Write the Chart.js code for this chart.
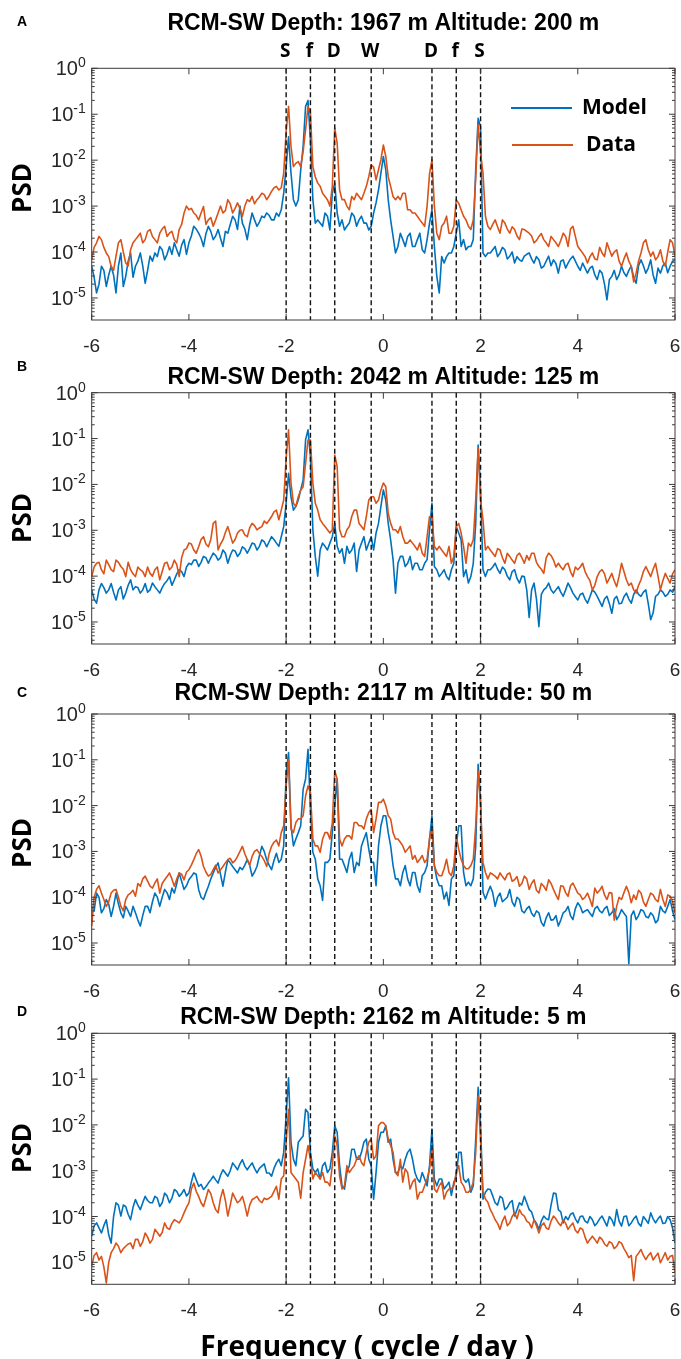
<!DOCTYPE html>
<html>
<head>
<meta charset="utf-8">
<script src="https://cdn.jsdelivr.net/npm/chart.js@4.4.1/dist/chart.umd.min.js"></script>
<style>
    html, body { margin: 0; padding: 0; background: #fff; }
    #wrap { position: relative; width: 681px; height: 1359px; overflow: hidden; }
    #wrap canvas { position: absolute; left: 0; top: 0; }
</style>
</head>
<body>
<div id="wrap">
    <canvas id="pA" width="681" height="1359"></canvas>
    <canvas id="pB" width="681" height="1359"></canvas>
    <canvas id="pC" width="681" height="1359"></canvas>
    <canvas id="pD" width="681" height="1359"></canvas>
</div>
<script>
// ============================
// Data (PSD stored as log10 values)
// one row = half a cycle/day
// ============================

const freq = [
    -6.00, -5.95, -5.90, -5.85, -5.80, -5.75, -5.70, -5.65, -5.60, -5.55,
    -5.50, -5.45, -5.40, -5.35, -5.30, -5.25, -5.20, -5.15, -5.10, -5.05,
    -5.00, -4.95, -4.90, -4.85, -4.80, -4.75, -4.70, -4.65, -4.60, -4.55,
    -4.50, -4.45, -4.40, -4.35, -4.30, -4.25, -4.20, -4.15, -4.10, -4.05,
    -4.00, -3.95, -3.90, -3.85, -3.80, -3.75, -3.70, -3.65, -3.60, -3.55,
    -3.50, -3.45, -3.40, -3.35, -3.30, -3.25, -3.20, -3.15, -3.10, -3.05,
    -3.00, -2.95, -2.90, -2.85, -2.80, -2.75, -2.70, -2.65, -2.60, -2.55,
    -2.50, -2.45, -2.40, -2.35, -2.30, -2.25, -2.20, -2.15, -2.10, -2.05,
    -2.00, -1.95, -1.90, -1.85, -1.80, -1.75, -1.70, -1.65, -1.60, -1.55,
    -1.50, -1.45, -1.40, -1.35, -1.30, -1.25, -1.20, -1.15, -1.10, -1.05,
    -1.00, -0.95, -0.90, -0.85, -0.80, -0.75, -0.70, -0.65, -0.60, -0.55,
    -0.50, -0.45, -0.40, -0.35, -0.30, -0.25, -0.20, -0.15, -0.10, -0.05,
    0.00, 0.05, 0.10, 0.15, 0.20, 0.25, 0.30, 0.35, 0.40, 0.45,
    0.50, 0.55, 0.60, 0.65, 0.70, 0.75, 0.80, 0.85, 0.90, 0.95,
    1.00, 1.05, 1.10, 1.15, 1.20, 1.25, 1.30, 1.35, 1.40, 1.45,
    1.50, 1.55, 1.60, 1.65, 1.70, 1.75, 1.80, 1.85, 1.90, 1.95,
    2.00, 2.05, 2.10, 2.15, 2.20, 2.25, 2.30, 2.35, 2.40, 2.45,
    2.50, 2.55, 2.60, 2.65, 2.70, 2.75, 2.80, 2.85, 2.90, 2.95,
    3.00, 3.05, 3.10, 3.15, 3.20, 3.25, 3.30, 3.35, 3.40, 3.45,
    3.50, 3.55, 3.60, 3.65, 3.70, 3.75, 3.80, 3.85, 3.90, 3.95,
    4.00, 4.05, 4.10, 4.15, 4.20, 4.25, 4.30, 4.35, 4.40, 4.45,
    4.50, 4.55, 4.60, 4.65, 4.70, 4.75, 4.80, 4.85, 4.90, 4.95,
    5.00, 5.05, 5.10, 5.15, 5.20, 5.25, 5.30, 5.35, 5.40, 5.45,
    5.50, 5.55, 5.60, 5.65, 5.70, 5.75, 5.80, 5.85, 5.90, 5.95,
    6.00
];

const modelA = [
    -4.31, -4.55, -4.89, -4.7, -4.31, -4.4, -4.75, -4.5, -4.31, -4.5,
    -4.89, -4.3, -4.02, -4.75, -4.53, -4.2, -4.02, -4.55, -4.31, -4.2,
    -4.02, -4.3, -4.68, -4.4, -4.09, -4.2, -4.02, -4.1, -3.88, -3.95,
    -4.17, -4.05, -3.88, -4.05, -3.8, -3.95, -4.09, -3.85, -3.73, -4.05,
    -3.8, -3.65, -3.44, -3.5, -3.59, -3.7, -3.88, -3.6, -3.44, -3.55,
    -3.73, -3.65, -3.51, -3.7, -3.88, -3.55, -3.59, -3.4, -3.22, -3.3,
    -3.51, -3.0, -3.37, -3.5, -3.73, -3.4, -3.15, -3.3, -3.44, -3.35,
    -3.22, -3.25, -3.15, -3.2, -3.3, -3.3, -3.15, -3.22, -3.08, -2.72,
    -2.14, -1.49, -2.28, -2.86, -3.0, -2.86, -2.21, -1.7, -0.83, -0.7,
    -1.56, -2.86, -3.37, -3.3, -3.37, -3.44, -3.15, -3.22, -3.52, -2.72,
    -2.5, -3.15, -3.44, -3.3, -3.52, -3.44, -3.37, -3.15, -3.22, -3.44,
    -3.3, -3.22, -3.37, -3.37, -3.52, -3.44, -3.15, -2.93, -2.65, -2.28,
    -1.92, -2.21, -2.86, -3.3, -3.66, -4.02, -3.88, -3.59, -3.73, -3.88,
    -3.66, -3.59, -3.88, -3.88, -3.73, -3.59, -3.95, -4.02, -3.73, -3.37,
    -3.08, -3.88, -4.53, -4.89, -4.1, -4.24, -4.1, -4.02, -4.02, -3.88,
    -3.59, -3.3, -3.88, -3.73, -3.95, -3.88, -3.88, -3.73, -2.21, -1.09,
    -1.27, -4.02, -4.1, -4.02, -4.02, -3.95, -3.88, -4.1, -4.02, -3.9,
    -3.95, -4.15, -4.09, -4.0, -4.24, -4.1, -4.17, -4.2, -4.09, -4.05,
    -4.02, -4.15, -4.24, -4.1, -4.17, -4.35, -4.31, -4.2, -4.09, -4.3,
    -4.17, -4.25, -4.46, -4.2, -4.17, -4.35, -4.24, -4.15, -4.09, -4.2,
    -4.31, -4.4, -4.24, -4.35, -4.46, -4.35, -4.31, -4.5, -4.6, -4.4,
    -4.46, -4.7, -5.04, -4.6, -4.53, -4.4, -4.6, -4.5, -4.31, -4.45,
    -4.53, -4.4, -4.31, -4.55, -4.68, -4.3, -4.17, -4.3, -4.46, -4.35,
    -4.17, -4.5, -4.68, -4.35, -4.46, -4.3, -4.24, -4.45, -4.31, -4.2,
    -4.17
];
const dataA = [
    -4.17, -3.9, -3.8, -3.66, -3.73, -3.9, -4.02, -4.1, -4.31, -4.4,
    -4.09, -3.8, -3.73, -4.0, -4.24, -4.3, -3.95, -3.8, -3.73, -3.66,
    -3.59, -3.8, -3.73, -3.55, -3.51, -3.66, -3.73, -3.8, -3.59, -3.5,
    -3.44, -3.66, -3.59, -3.55, -3.73, -3.8, -3.51, -3.4, -3.15, -3.0,
    -3.08, -3.05, -3.15, -3.2, -3.3, -3.15, -3.01, -3.4, -3.3, -3.25,
    -3.44, -3.3, -3.15, -3.0, -3.15, -3.1, -2.86, -2.95, -3.15, -3.05,
    -2.93, -3.05, -3.22, -3.0, -2.86, -2.9, -2.79, -2.95, -2.86, -2.8,
    -2.72, -2.75, -2.86, -2.78, -2.68, -2.6, -2.57, -2.65, -2.6, -2.28,
    -1.38, -0.83, -1.7, -2.14, -2.07, -2.03, -2.14, -1.81, -1.34, -0.83,
    -0.98, -2.14, -2.36, -2.5, -2.57, -2.72, -2.79, -2.86, -3.0, -2.57,
    -1.3, -1.63, -2.65, -2.86, -2.86, -3.0, -3.08, -2.79, -2.86, -2.72,
    -2.79, -2.86, -2.72, -2.57, -2.36, -2.1, -2.15, -2.43, -2.21, -1.99,
    -1.67, -1.92, -2.36, -2.57, -2.79, -2.86, -2.79, -2.86, -2.72, -2.72,
    -3.08, -3.08, -3.15, -3.15, -3.22, -3.3, -3.37, -3.44, -3.0, -2.3,
    -1.99, -3.0, -3.59, -3.73, -3.44, -3.37, -3.22, -3.59, -3.59, -3.44,
    -2.86, -2.94, -3.08, -3.22, -3.3, -3.44, -3.51, -3.3, -2.4, -1.23,
    -1.85, -2.28, -3.22, -3.44, -3.51, -3.4, -3.3, -3.45, -3.59, -3.3,
    -3.37, -3.5, -3.59, -3.45, -3.51, -3.65, -3.73, -3.5, -3.51, -3.55,
    -3.59, -3.65, -3.8, -3.75, -3.66, -3.6, -3.73, -3.8, -3.88, -3.66,
    -3.73, -3.8, -3.88, -3.75, -3.59, -3.66, -3.88, -3.5, -3.44, -3.66,
    -3.88, -3.95, -4.02, -4.1, -4.24, -4.1, -4.02, -4.15, -4.17, -3.9,
    -4.02, -4.1, -3.8, -3.95, -4.09, -4.0, -3.95, -4.2, -4.31, -4.15,
    -4.02, -4.2, -4.31, -4.65, -4.46, -4.2, -4.02, -3.8, -3.73, -3.95,
    -4.09, -4.0, -4.17, -4.1, -3.95, -4.2, -4.31, -4.0, -3.73, -3.8,
    -4.09
];

const modelB = [
    -4.3, -4.5, -4.59, -4.3, -4.16, -4.25, -4.37, -4.3, -4.16, -4.35,
    -4.52, -4.3, -4.23, -4.5, -4.37, -4.2, -4.08, -4.3, -4.23, -4.25,
    -4.37, -4.3, -4.16, -4.35, -4.3, -4.15, -4.23, -4.3, -4.37, -4.25,
    -4.16, -4.1, -4.01, -4.2, -4.08, -3.95, -3.86, -3.9, -4.01, -3.8,
    -3.72, -3.75, -3.65, -3.65, -3.79, -3.7, -3.57, -3.6, -3.72, -3.6,
    -3.5, -3.55, -3.65, -3.6, -3.43, -3.5, -3.72, -3.55, -3.43, -3.45,
    -3.57, -3.5, -3.36, -3.4, -3.5, -3.4, -3.28, -3.3, -3.43, -3.35,
    -3.21, -3.25, -3.36, -3.25, -3.14, -3.2, -3.28, -3.35, -3.14, -2.92,
    -2.41, -1.76, -2.27, -2.56, -2.48, -2.34, -2.12, -1.9, -1.03, -0.81,
    -1.39, -2.99, -3.57, -4.0, -3.43, -3.28, -3.35, -3.43, -3.28, -3.14,
    -2.85, -3.35, -3.5, -3.4, -3.72, -3.35, -3.5, -3.43, -3.28, -3.9,
    -3.43, -3.28, -3.14, -3.43, -3.28, -3.14, -3.43, -3.06, -2.85, -2.48,
    -2.12, -2.34, -2.85, -3.21, -3.64, -4.37, -3.72, -3.57, -3.57, -3.79,
    -3.72, -3.57, -3.86, -3.72, -3.72, -3.86, -3.86, -3.72, -3.64, -2.99,
    -2.41, -3.79, -3.86, -4.01, -3.94, -3.86, -4.01, -4.08, -3.86, -3.72,
    -2.92, -3.06, -3.21, -4.01, -3.86, -4.15, -4.01, -3.72, -2.85, -1.14,
    -2.12, -3.86, -4.01, -3.86, -3.86, -3.8, -3.72, -3.85, -3.94, -3.8,
    -3.86, -4.0, -4.08, -3.9, -3.86, -4.05, -4.15, -4.0, -4.01, -4.3,
    -4.9, -4.3, -4.15, -4.5, -5.1, -4.4, -4.3, -4.25, -4.15, -4.3,
    -4.37, -4.3, -4.23, -4.35, -4.44, -4.3, -4.15, -4.25, -4.37, -4.45,
    -4.52, -4.4, -4.37, -4.5, -4.59, -4.45, -4.3, -4.35, -4.44, -4.55,
    -4.66, -4.5, -4.44, -4.6, -4.81, -4.5, -4.44, -4.6, -4.59, -4.45,
    -4.37, -4.5, -4.59, -4.4, -4.3, -4.4, -4.44, -4.35, -4.3, -4.6,
    -4.95, -4.8, -4.44, -4.4, -4.3, -4.35, -4.44, -4.4, -4.3, -4.35,
    -4.23
];
const dataB = [
    -4.01, -3.8, -3.72, -3.7, -3.86, -3.95, -3.65, -3.75, -3.86, -3.9,
    -3.65, -3.7, -3.79, -3.85, -4.01, -3.7, -3.86, -3.95, -4.01, -3.8,
    -3.86, -3.9, -4.01, -3.8, -3.94, -4.0, -3.86, -3.8, -4.08, -3.9,
    -3.72, -3.7, -3.86, -3.8, -3.65, -3.75, -4.01, -3.6, -3.43, -3.4,
    -3.28, -3.3, -3.43, -3.5, -3.36, -3.2, -3.14, -3.3, -3.36, -3.2,
    -2.85, -2.8, -3.43, -3.3, -3.21, -3.05, -2.92, -3.1, -3.28, -3.2,
    -3.06, -3.0, -2.99, -3.1, -3.14, -2.95, -2.85, -2.9, -2.99, -2.95,
    -2.92, -2.8, -2.85, -2.78, -2.7, -2.6, -2.56, -2.77, -2.56, -2.34,
    -1.43, -0.81, -1.97, -2.41, -2.48, -2.27, -2.12, -2.05, -1.54, -1.03,
    -1.03, -1.97, -2.41, -2.56, -2.77, -2.85, -2.92, -2.99, -3.06, -2.99,
    -1.36, -1.61, -2.99, -3.14, -3.14, -2.99, -2.92, -2.7, -2.56, -2.56,
    -2.85, -2.92, -2.99, -2.7, -2.34, -2.27, -2.27, -2.41, -2.34, -2.12,
    -1.97, -2.05, -2.63, -2.85, -2.99, -2.99, -3.06, -2.92, -3.14, -3.28,
    -3.28, -3.21, -3.28, -3.35, -3.43, -3.28, -3.5, -3.57, -3.14, -2.7,
    -2.7, -3.35, -3.43, -3.35, -3.43, -3.5, -3.57, -3.35, -3.72, -3.57,
    -2.92, -2.85, -3.06, -3.35, -3.72, -3.28, -3.35, -3.21, -2.34, -1.21,
    -2.34, -2.77, -3.43, -3.35, -3.43, -3.5, -3.57, -3.4, -3.43, -3.6,
    -3.72, -3.5, -3.57, -3.65, -3.72, -3.55, -3.5, -3.6, -3.72, -3.55,
    -3.65, -3.5, -3.5, -3.7, -3.79, -3.85, -3.94, -3.6, -3.5, -3.55,
    -3.65, -3.8, -3.72, -3.8, -3.86, -3.75, -3.72, -3.9, -4.01, -3.8,
    -3.86, -3.8, -3.72, -3.9, -4.01, -4.1, -4.3, -4.2, -4.01, -3.9,
    -3.86, -3.95, -4.15, -4.05, -3.94, -4.1, -4.23, -4.0, -3.72, -3.9,
    -4.08, -4.2, -4.15, -4.3, -4.37, -4.2, -4.08, -3.9, -3.79, -3.9,
    -4.01, -3.85, -3.72, -4.0, -4.3, -4.1, -3.94, -4.05, -4.15, -3.95,
    -3.86
];

const modelC = [
    -4.2, -4.3, -3.91, -4.0, -4.34, -4.25, -4.05, -4.15, -4.42, -4.2,
    -3.91, -4.15, -4.34, -4.45, -4.2, -4.3, -4.42, -4.2, -4.34, -4.5,
    -4.63, -4.4, -4.2, -4.2, -4.34, -4.1, -3.91, -4.0, -4.2, -4.0,
    -3.83, -3.9, -4.05, -3.8, -3.91, -3.7, -3.47, -3.65, -3.83, -3.75,
    -3.62, -3.55, -3.47, -3.5, -3.83, -4.0, -4.05, -3.9, -3.76, -3.6,
    -3.47, -3.35, -3.25, -3.5, -3.76, -3.45, -3.18, -3.25, -3.33, -3.4,
    -3.47, -3.35, -3.4, -3.3, -3.18, -3.3, -3.54, -3.45, -3.33, -3.1,
    -2.89, -3.0, -3.18, -3.3, -3.4, -3.2, -3.04, -3.24, -3.17, -2.88,
    -1.3, -0.84, -2.44, -2.88, -2.73, -2.59, -2.44, -1.64, -1.42, -0.77,
    -2.08, -3.02, -3.17, -3.6, -3.75, -4.07, -3.24, -3.24, -3.17, -2.59,
    -2.0, -1.42, -3.17, -3.17, -3.31, -3.46, -3.17, -3.02, -3.46, -3.24,
    -3.31, -2.88, -2.73, -2.59, -2.95, -3.24, -3.24, -3.75, -2.88, -2.44,
    -2.22, -2.22, -2.59, -2.88, -3.31, -3.6, -3.6, -3.75, -3.46, -3.31,
    -3.6, -3.75, -3.46, -3.46, -3.75, -3.89, -3.53, -3.46, -3.31, -2.73,
    -2.22, -3.31, -3.6, -3.75, -3.75, -4.04, -3.89, -4.18, -3.6, -3.53,
    -2.88, -2.44, -2.44, -3.46, -3.75, -3.67, -3.75, -3.6, -2.88, -1.1,
    -1.86, -3.89, -4.04, -3.89, -3.76, -3.9, -4.2, -4.0, -3.91, -4.1,
    -4.05, -4.0, -3.83, -4.1, -4.2, -4.0, -4.05, -4.3, -4.34, -4.25,
    -4.2, -4.35, -4.42, -4.3, -4.34, -4.55, -4.63, -4.45, -4.34, -4.5,
    -4.49, -4.4, -4.63, -4.5, -4.34, -4.3, -4.2, -4.4, -4.49, -4.25,
    -4.12, -4.2, -4.34, -4.3, -4.27, -4.35, -4.42, -4.25, -4.2, -4.3,
    -4.34, -4.25, -4.2, -4.4, -4.34, -4.25, -4.49, -4.4, -4.27, -4.35,
    -4.42, -5.45, -4.4, -4.3, -4.49, -4.4, -4.27, -4.3, -4.42, -4.45,
    -4.34, -4.4, -4.56, -4.5, -4.2, -4.3, -4.34, -4.2, -4.05, -4.3,
    -4.49
];
const dataC = [
    -4.63, -4.0, -3.83, -3.75, -3.91, -4.05, -4.2, -4.1, -3.91, -3.85,
    -3.83, -4.0, -4.2, -4.3, -4.05, -3.95, -3.91, -3.85, -3.98, -3.7,
    -3.76, -3.6, -3.54, -3.65, -3.76, -3.8, -3.69, -3.6, -3.91, -3.7,
    -3.62, -3.55, -3.47, -3.6, -3.76, -3.6, -3.47, -3.5, -3.62, -3.45,
    -3.4, -3.3, -3.18, -3.05, -2.96, -3.1, -3.33, -3.45, -3.54, -3.5,
    -3.4, -3.3, -3.47, -3.4, -3.33, -3.25, -3.18, -3.15, -3.25, -3.2,
    -3.11, -3.0, -2.89, -3.05, -3.18, -3.3, -3.11, -3.0, -2.96, -3.05,
    -3.11, -3.2, -3.33, -3.05, -2.89, -2.8, -2.75, -2.88, -2.59, -2.44,
    -1.57, -1.0, -2.51, -2.59, -2.37, -2.29, -2.29, -2.22, -1.79, -1.57,
    -1.71, -2.73, -2.88, -2.88, -3.02, -2.73, -2.59, -2.59, -2.73, -2.37,
    -1.24, -1.42, -2.73, -2.88, -2.73, -2.66, -2.66, -2.73, -2.37, -2.37,
    -2.44, -2.44, -2.51, -2.29, -2.15, -2.08, -2.59, -2.29, -1.93, -1.93,
    -1.86, -2.0, -2.22, -2.29, -2.59, -2.73, -2.73, -2.8, -2.88, -3.02,
    -2.95, -2.88, -3.17, -3.09, -3.24, -3.17, -3.09, -3.24, -3.17, -2.73,
    -2.51, -3.31, -3.46, -3.53, -3.53, -3.38, -3.17, -3.46, -3.53, -3.31,
    -2.66, -2.95, -3.17, -3.31, -3.38, -3.38, -3.31, -3.17, -2.44, -1.24,
    -2.0, -3.24, -3.46, -3.6, -3.47, -3.5, -3.54, -3.6, -3.47, -3.55,
    -3.62, -3.5, -3.47, -3.65, -3.62, -3.55, -3.76, -3.7, -3.54, -3.6,
    -3.83, -3.7, -3.62, -3.85, -3.91, -3.7, -3.76, -3.85, -3.62, -3.7,
    -3.83, -3.95, -4.05, -3.75, -3.76, -3.9, -3.98, -3.75, -3.69, -3.8,
    -3.91, -3.95, -4.05, -4.0, -3.91, -4.05, -4.2, -3.8, -3.91, -3.85,
    -3.76, -3.95, -4.05, -3.9, -3.91, -4.5, -4.2, -4.0, -4.05, -3.9,
    -3.76, -3.9, -4.12, -3.95, -4.05, -3.85, -3.91, -4.1, -4.2, -4.05,
    -3.91, -3.95, -4.05, -4.1, -3.83, -4.05, -4.2, -3.95, -3.98, -4.1,
    -4.34
];

const modelD = [
    -4.43, -4.2, -4.14, -4.25, -4.36, -4.2, -4.07, -4.4, -4.58, -4.0,
    -3.7, -3.75, -3.99, -3.75, -3.78, -3.95, -4.07, -3.8, -3.63, -3.75,
    -3.85, -3.7, -3.56, -3.65, -3.7, -3.7, -3.56, -3.6, -3.78, -3.7,
    -3.49, -3.55, -3.7, -3.6, -3.41, -3.45, -3.56, -3.5, -3.41, -3.55,
    -3.49, -3.25, -3.05, -3.2, -3.34, -3.3, -3.41, -3.35, -3.27, -3.2,
    -3.12, -3.2, -3.27, -3.1, -2.98, -3.05, -3.12, -3.0, -2.83, -2.9,
    -2.98, -2.85, -2.76, -2.9, -2.98, -2.9, -2.83, -2.95, -3.05, -2.95,
    -2.9, -2.85, -3.05, -3.05, -3.12, -2.95, -2.83, -2.75, -2.89, -2.6,
    -1.8, -0.97, -2.38, -2.75, -2.89, -2.38, -2.31, -2.24, -1.66, -1.73,
    -2.6, -2.96, -3.04, -2.96, -3.18, -2.89, -2.82, -3.04, -2.96, -2.6,
    -2.02, -2.16, -2.89, -3.33, -3.4, -3.04, -2.89, -2.53, -2.53, -2.75,
    -2.75, -2.6, -2.38, -2.31, -2.75, -2.89, -3.62, -3.04, -2.38, -2.16,
    -2.16, -2.02, -2.38, -2.31, -2.75, -3.04, -3.04, -2.89, -2.96, -2.75,
    -2.6, -2.53, -2.75, -3.04, -3.18, -3.25, -3.04, -3.18, -3.33, -2.89,
    -2.09, -3.18, -3.33, -3.18, -3.18, -3.4, -3.33, -3.25, -3.54, -3.25,
    -3.11, -2.6, -2.6, -3.18, -3.25, -3.18, -3.47, -3.33, -2.31, -1.18,
    -2.02, -3.62, -3.47, -3.4, -3.41, -3.55, -3.7, -3.75, -3.56, -3.6,
    -3.85, -3.8, -3.7, -3.65, -3.99, -3.85, -3.7, -3.75, -3.56, -3.7,
    -3.85, -3.9, -4.07, -4.15, -4.28, -4.1, -3.99, -4.05, -4.07, -3.75,
    -3.49, -3.5, -3.85, -3.9, -4.14, -4.0, -4.07, -3.95, -3.92, -4.05,
    -4.14, -4.0, -3.99, -4.1, -4.14, -4.0, -4.07, -4.2, -4.14, -4.05,
    -3.99, -4.1, -4.21, -4.0, -4.07, -4.2, -3.85, -4.1, -4.21, -4.0,
    -3.99, -4.2, -4.14, -4.05, -3.99, -4.15, -4.21, -4.0, -4.07, -4.15,
    -3.92, -4.05, -4.14, -4.05, -3.99, -4.15, -4.14, -4.0, -4.07, -4.25,
    -4.58
];
const dataD = [
    -5.08, -4.85, -4.79, -4.95, -4.87, -5.1, -5.45, -5.0, -4.79, -4.7,
    -4.58, -4.65, -4.79, -4.7, -4.65, -4.6, -4.58, -4.7, -4.5, -4.5,
    -4.65, -4.55, -4.36, -4.45, -4.58, -4.5, -4.28, -4.35, -4.43, -4.35,
    -4.14, -4.25, -4.28, -4.15, -4.07, -4.1, -4.14, -4.05, -3.92, -3.8,
    -3.7, -3.4, -3.27, -3.45, -3.56, -3.7, -3.78, -3.6, -3.41, -3.5,
    -3.7, -3.85, -3.92, -3.6, -3.41, -3.65, -3.99, -3.75, -3.49, -3.6,
    -3.7, -3.65, -3.56, -3.75, -3.99, -3.75, -3.63, -3.6, -3.56, -3.65,
    -3.7, -3.6, -3.63, -3.6, -3.56, -3.45, -3.34, -3.62, -3.18, -3.11,
    -2.38, -1.66, -3.04, -3.11, -3.18, -3.25, -3.6, -3.04, -2.75, -2.45,
    -2.75, -3.18, -3.04, -3.11, -3.18, -3.04, -3.25, -3.25, -3.33, -2.89,
    -2.24, -2.45, -3.11, -3.4, -3.33, -2.89, -3.04, -2.96, -2.89, -2.75,
    -2.67, -2.82, -2.89, -2.6, -2.38, -2.31, -2.75, -2.67, -2.02, -1.95,
    -1.95, -2.02, -2.31, -2.45, -2.6, -3.04, -3.11, -2.75, -3.25, -2.96,
    -3.04, -3.4, -3.25, -3.18, -3.62, -3.47, -3.47, -3.33, -3.18, -2.96,
    -2.53, -3.4, -3.47, -3.33, -3.25, -3.62, -3.47, -3.4, -3.4, -3.33,
    -3.04, -2.89, -3.25, -3.33, -3.47, -3.47, -3.4, -3.25, -2.6, -1.37,
    -2.31, -3.47, -3.62, -3.69, -3.85, -3.95, -4.07, -4.15, -4.28, -4.1,
    -3.99, -4.2, -4.14, -4.0, -3.92, -4.05, -3.85, -3.95, -3.99, -4.1,
    -4.14, -4.25, -4.07, -4.2, -4.36, -4.2, -4.14, -4.25, -4.28, -4.1,
    -3.99, -4.05, -4.14, -4.2, -4.07, -4.15, -4.28, -4.2, -4.14, -4.3,
    -4.36, -4.25, -4.28, -4.45, -4.58, -4.5, -4.43, -4.5, -4.58, -4.45,
    -4.5, -4.6, -4.65, -4.55, -4.58, -4.7, -4.65, -4.55, -4.58, -4.7,
    -4.79, -4.9, -4.85, -5.4, -4.87, -4.8, -4.72, -4.85, -4.94, -4.85,
    -4.79, -4.95, -4.87, -4.8, -5.01, -4.9, -4.79, -4.95, -4.87, -4.85,
    -5.23
];

// tidal / inertial constituents marked with dashed lines
const tagFreqs = [-2, -1.5, -1, -0.25, 1, 1.5, 2];
const tagLabels = ['S', 'f', 'D', 'W', 'D', 'f', 'S'];

const xTicks = [-6, -4, -2, 0, 2, 4, 6];
const yDecades = [0, -1, -2, -3, -4, -5];

const MODEL_COLOR = '#0072BD';
const DATA_COLOR = '#D95319';
const AXIS_COLOR = '#262626';

const panels = [
    { id: 'pA', letter: 'A', title: 'RCM-SW Depth: 1967 m Altitude: 200 m', model: modelA, data: dataA,
      top: 68.3, bottom: 320, titleY: 23.5, letterY: 22, psdY: 188, tags: true, legend: true },
    { id: 'pB', letter: 'B', title: 'RCM-SW Depth: 2042 m Altitude: 125 m', model: modelB, data: dataB,
      top: 392.7, bottom: 644, titleY: 378, letterY: 367, psdY: 518 },
    { id: 'pC', letter: 'C', title: 'RCM-SW Depth: 2117 m Altitude: 50 m', model: modelC, data: dataC,
      top: 714, bottom: 965, titleY: 693.5, letterY: 693, psdY: 843 },
    { id: 'pD', letter: 'D', title: 'RCM-SW Depth: 2162 m Altitude: 5 m', model: modelD, data: dataD,
      top: 1033.3, bottom: 1284.3, titleY: 1017.5, letterY: 1012, psdY: 1148, xlabel: true }
];

const CANVAS_H = 1359;
const X_AXIS_H = 44;

function toPoints(logVals) {
    return freq.map((f, i) => ({ x: f, y: Math.pow(10, logVals[i]) }));
}

function makeDecorations(p) {
    return {
        id: 'deco' + p.letter,
        afterDraw(chart) {
            const { ctx, chartArea: a, scales: { x, y } } = chart;
            ctx.save();

            // dashed constituent lines
            ctx.strokeStyle = '#111';
            ctx.lineWidth = 1.4;
            ctx.setLineDash([5, 3]);
            tagFreqs.forEach(f => {
                const px = x.getPixelForValue(f);
                ctx.beginPath();
                ctx.moveTo(px, a.top);
                ctx.lineTo(px, a.bottom);
                ctx.stroke();
            });
            ctx.setLineDash([]);

            // axes box
            ctx.strokeStyle = '#3a3a3a';
            ctx.lineWidth = 1;
            ctx.strokeRect(a.left, a.top, a.right - a.left, a.bottom - a.top);

            // inward x ticks, bottom and top
            xTicks.forEach(v => {
                const px = x.getPixelForValue(v);
                ctx.beginPath();
                ctx.moveTo(px, a.bottom); ctx.lineTo(px, a.bottom - 6);
                ctx.moveTo(px, a.top); ctx.lineTo(px, a.top + 6);
                ctx.stroke();
            });

            // inward log ticks on both sides
            for (let k = -6; k <= 0; k++) {
                for (let m = 1; m <= 9; m++) {
                    const v = m * Math.pow(10, k);
                    if (v < y.min || v > y.max) continue;
                    const py = y.getPixelForValue(v);
                    const len = m === 1 ? 6 : 3;
                    ctx.beginPath();
                    ctx.moveTo(a.left, py); ctx.lineTo(a.left + len, py);
                    ctx.moveTo(a.right, py); ctx.lineTo(a.right - len, py);
                    ctx.stroke();
                }
            }

            // y tick labels 10^k
            ctx.fillStyle = AXIS_COLOR;
            ctx.textBaseline = 'alphabetic';
            yDecades.forEach(k => {
                const py = y.getPixelForValue(Math.pow(10, k));
                const exp = k === 0 ? '0' : '-' + Math.abs(k);
                ctx.font = '14px "Liberation Sans", Arial, sans-serif';
                const w = ctx.measureText(exp).width;
                const ex = a.left - 6 - w;
                ctx.textAlign = 'left';
                ctx.fillText(exp, ex, py - 1);
                ctx.font = '20px "Liberation Sans", Arial, sans-serif';
                ctx.textAlign = 'right';
                ctx.fillText('10', ex, py + 7);
            });

            // PSD label
            ctx.save();
            ctx.translate(24, p.psdY);
            ctx.rotate(-Math.PI / 2);
            ctx.font = 'bold 26px "Open Sans", sans-serif';
            ctx.fillStyle = '#000';
            ctx.textAlign = 'center';
            ctx.textBaseline = 'middle';
            ctx.fillText('PSD', 0, 0);
            ctx.restore();

            // title and panel letter
            ctx.fillStyle = '#000';
            ctx.textAlign = 'center';
            ctx.textBaseline = 'middle';
            ctx.font = 'bold 23px "Liberation Sans", Arial, sans-serif';
            ctx.fillText(p.title, (a.left + a.right) / 2, p.titleY);
            ctx.font = 'bold 14px "Liberation Sans", Arial, sans-serif';
            ctx.fillText(p.letter, 22, p.letterY);

            if (p.tags) {
                ctx.font = 'bold 19px "Open Sans", sans-serif';
                tagFreqs.forEach((f, i) => {
                    ctx.fillText(tagLabels[i], x.getPixelForValue(f) - 1, 52);
                });
            }

            if (p.legend) {
                ctx.lineWidth = 2;
                ctx.strokeStyle = MODEL_COLOR;
                ctx.beginPath(); ctx.moveTo(511, 108); ctx.lineTo(572, 108); ctx.stroke();
                ctx.strokeStyle = DATA_COLOR;
                ctx.beginPath(); ctx.moveTo(512, 145); ctx.lineTo(573, 145); ctx.stroke();
                ctx.font = 'bold 21px "Open Sans", sans-serif';
                ctx.textAlign = 'left';
                ctx.fillText('Model', 582, 108);
                ctx.fillText('Data', 586, 145);
            }

            if (p.xlabel) {
                ctx.font = 'bold 28px "Open Sans", sans-serif';
                ctx.textAlign = 'center';
                ctx.fillText('Frequency ( cycle / day )', 367, 1348);
            }

            ctx.restore();
        }
    };
}

panels.forEach(p => {
    const canvas = document.getElementById(p.id);
    new Chart(canvas.getContext('2d'), {
        type: 'line',
        data: {
            datasets: [{
                label: 'Data',
                data: toPoints(p.data),
                borderColor: DATA_COLOR,
                borderWidth: 1.6,
                pointRadius: 0,
                borderJoinStyle: 'round',
                tension: 0,
                order: 0
            }, {
                label: 'Model',
                data: toPoints(p.model),
                borderColor: MODEL_COLOR,
                borderWidth: 1.6,
                pointRadius: 0,
                borderJoinStyle: 'round',
                tension: 0,
                order: 1
            }]
        },
        options: {
            responsive: false,
            animation: false,
            events: [],
            layout: {
                padding: {
                    top: p.top,
                    left: 91.7,
                    right: 6,
                    bottom: CANVAS_H - p.bottom - X_AXIS_H
                }
            },
            scales: {
                x: {
                    type: 'linear',
                    min: -6,
                    max: 6,
                    grid: { display: false, drawTicks: false },
                    border: { display: false },
                    ticks: {
                        stepSize: 2,
                        padding: 15,
                        color: AXIS_COLOR,
                        font: { family: '"Liberation Sans", Arial, sans-serif', size: 19 },
                        callback: v => (Math.abs(v) < 1e-9 ? '0' : String(v))
                    },
                    afterFit(scale) {
                        scale.height = X_AXIS_H;
                        // keep label overhang from shrinking the plot area
                        scale.paddingLeft = 0;
                        scale.paddingRight = 0;
                    }
                },
                y: {
                    type: 'logarithmic',
                    min: Math.pow(10, -5.48),
                    max: 1,
                    grid: { display: false, drawTicks: false },
                    border: { display: false },
                    ticks: { display: false },
                    afterFit(scale) { scale.width = 0; }
                }
            },
            plugins: {
                legend: { display: false },
                tooltip: { enabled: false }
            }
        },
        plugins: [makeDecorations(p)]
    });
});
</script>
</body>
</html>
